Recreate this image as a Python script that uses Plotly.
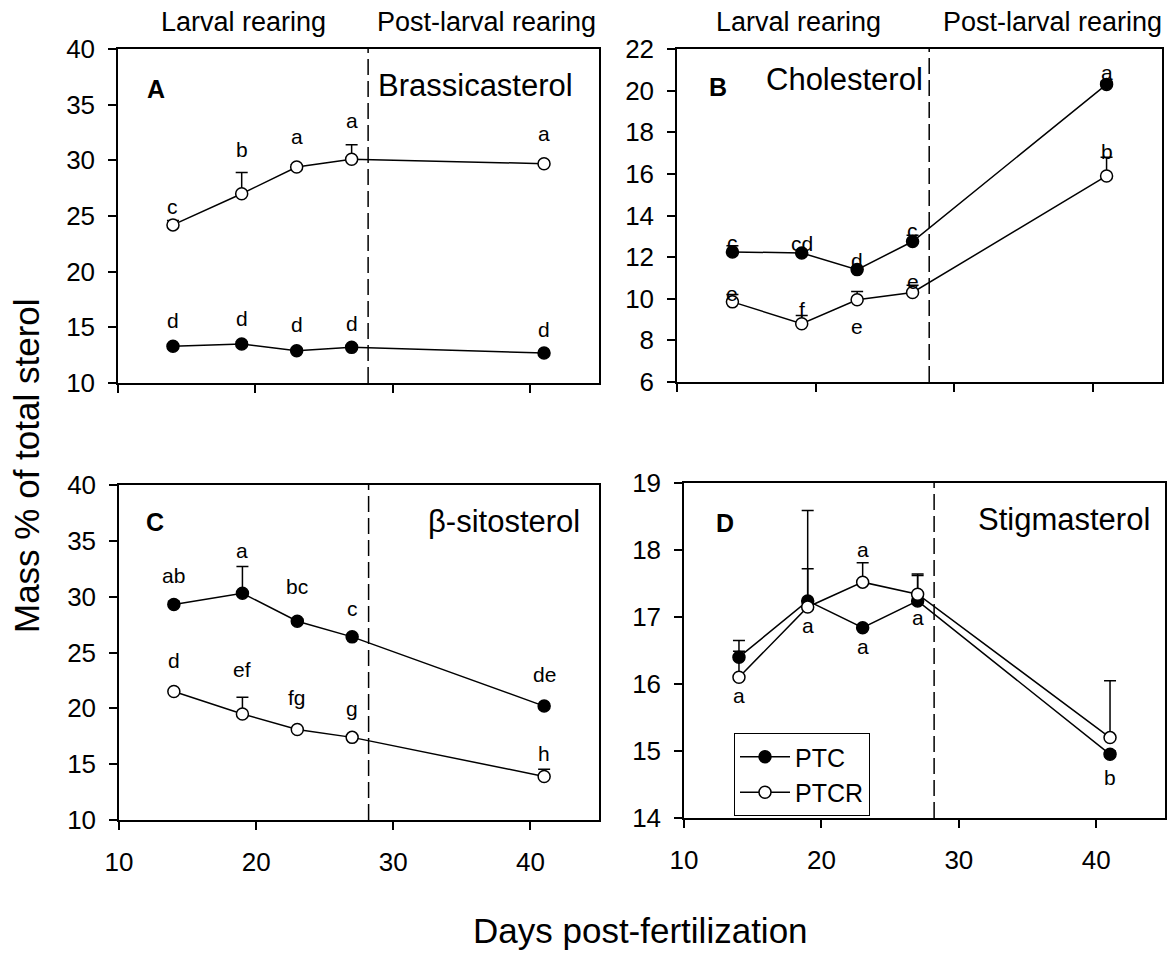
import plotly.graph_objects as go

# ---------------- data ----------------
days = [14, 19, 23, 27, 41]
x_ticks = [10, 20, 30, 40]
phase_boundary = 28.2
header_labels = ["Larval rearing", "Post-larval rearing"]
series_names = ["PTC", "PTCR"]

# Panel A - Brassicasterol
A_ptc = [13.3, 13.5, 12.9, 13.2, 12.7]
A_ptc_err = [0.2, 0.2, 0.2, 0.2, 0.2]
A_ptcr = [24.2, 27.0, 29.4, 30.1, 29.7]
A_ptcr_err = [0.4, 1.9, 0.2, 1.3, 0.2]
A_ptc_letters = ["d", "d", "d", "d", "d"]
A_ptcr_letters = ["c", "b", "a", "a", "a"]
A_ptc_lab_y = [15.58, 15.82, 15.29, 15.38, 14.84]
A_ptcr_lab_y = [25.85, 30.93, 32.13, 33.54, 32.43]

# Panel B - Cholesterol
B_ptc = [12.25, 12.2, 11.4, 12.75, 20.3]
B_ptc_err = [0.3, 0.1, 0.1, 0.3, 0.15]
B_ptcr = [9.85, 8.8, 9.95, 10.3, 15.9]
B_ptcr_err = [0.35, 0.4, 0.4, 0.35, 0.9]
B_ptc_letters = ["c", "cd", "d", "c", "a"]
B_ptcr_letters = ["e", "f", "e", "e", "b"]
B_ptc_lab_y = [12.71, 12.66, 11.86, 13.27, 20.85]
B_ptcr_lab_y = [10.26, 9.49, 8.65, 10.82, 17.07]

# Panel C - beta-sitosterol
C_ptc = [29.3, 30.3, 27.8, 26.4, 20.2]
C_ptc_err = [0.3, 2.4, 0.2, 0.2, 0.2]
C_ptcr = [21.5, 19.5, 18.1, 17.4, 13.9]
C_ptcr_err = [0.1, 1.5, 0.1, 0.1, 0.65]
C_ptc_letters = ["ab", "a", "bc", "c", "de"]
C_ptcr_letters = ["d", "ef", "fg", "g", "h"]
C_ptc_lab_y = [31.92, 34.1, 30.87, 28.92, 23.02]
C_ptcr_lab_y = [24.31, 23.47, 20.93, 20.03, 15.99]

# Panel D - Stigmasterol
D_ptc = [16.4, 17.24, 16.84, 17.24, 14.95]
D_ptc_err = [0.25, 1.35, 0.03, 0.4, 0.05]
D_ptcr = [16.1, 17.15, 17.52, 17.34, 15.2]
D_ptcr_err = [0.39, 0.57, 0.29, 0.28, 0.85]
D_lab_days = [14, 19, 23, 23, 27, 41]
D_lab_letters = ["a", "a", "a", "a", "a", "b"]
D_lab_y = [15.83, 16.88, 18.01, 16.56, 17.0, 14.61]

panels = [
    dict(name="A", title="Brassicasterol", ptc=A_ptc, ptc_err=A_ptc_err, ptcr=A_ptcr, ptcr_err=A_ptcr_err,
         yr=[10, 40], dt=5, xs="x", ys="y"),
    dict(name="B", title="Cholesterol", ptc=B_ptc, ptc_err=B_ptc_err, ptcr=B_ptcr, ptcr_err=B_ptcr_err,
         yr=[6, 22], dt=2, xs="x2", ys="y2"),
    dict(name="C", title="β-sitosterol", ptc=C_ptc, ptc_err=C_ptc_err, ptcr=C_ptcr, ptcr_err=C_ptcr_err,
         yr=[10, 40], dt=5, xs="x3", ys="y3"),
    dict(name="D", title="Stigmasterol", ptc=D_ptc, ptc_err=D_ptc_err, ptcr=D_ptcr, ptcr_err=D_ptcr_err,
         yr=[14, 19], dt=1, xs="x4", ys="y4"),
]

W, H = 1168, 954
FONT = "Liberation Sans, Arial, Helvetica, sans-serif"

def px_dom(a, b, total):
    return [a / total, b / total]

def py_dom(top, bottom):
    return [1 - bottom / H, 1 - top / H]

x_domains = [px_dom(118, 599, W), px_dom(677, 1162, W), px_dom(119, 599, W), px_dom(684, 1165, W)]
y_domains = [py_dom(49, 383), py_dom(49, 382), py_dom(485, 820), py_dom(483, 818)]

# text placement inside panels (axis-domain fractions)
panel_letter_pos = [(0.08, 0.879), (0.085, 0.887), (0.076, 0.89), (0.086, 0.881)]
panel_title_pos = [(0.744, 0.892), (0.346, 0.908), (0.802, 0.89), (0.789, 0.89)]

fig = go.Figure()

def err_dict(err):
    return dict(type="data", symmetric=False, array=err, arrayminus=[0] * len(err),
                color="black", thickness=1.5, width=6, visible=True)

for i, p in enumerate(panels):
    show = (p["name"] == "D")
    fig.add_trace(go.Scatter(
        x=days, y=p["ptc"], error_y=err_dict(p["ptc_err"]), mode="lines+markers",
        name=series_names[0], showlegend=show,
        line=dict(color="black", width=1.5),
        marker=dict(symbol="circle", size=12, color="black", line=dict(color="black", width=1.5)),
        xaxis=p["xs"], yaxis=p["ys"]))
    fig.add_trace(go.Scatter(
        x=days, y=p["ptcr"], error_y=err_dict(p["ptcr_err"]), mode="lines+markers",
        name=series_names[1], showlegend=show,
        line=dict(color="black", width=1.5),
        marker=dict(symbol="circle", size=12, color="white", line=dict(color="black", width=1.5)),
        xaxis=p["xs"], yaxis=p["ys"]))

annotations = []
def add_letters(xs, ys, letters, xref, yref):
    for xv, yv, t in zip(xs, ys, letters):
        annotations.append(dict(x=xv, y=yv, xref=xref, yref=yref, text=t, showarrow=False,
                                font=dict(family=FONT, size=21, color="black"),
                                xanchor="center", yanchor="middle"))

add_letters(days, A_ptc_lab_y, A_ptc_letters, "x", "y")
add_letters(days, A_ptcr_lab_y, A_ptcr_letters, "x", "y")
add_letters(days, B_ptc_lab_y, B_ptc_letters, "x2", "y2")
add_letters(days, B_ptcr_lab_y, B_ptcr_letters, "x2", "y2")
add_letters(days, C_ptc_lab_y, C_ptc_letters, "x3", "y3")
add_letters(days, C_ptcr_lab_y, C_ptcr_letters, "x3", "y3")
add_letters(D_lab_days, D_lab_y, D_lab_letters, "x4", "y4")

shapes = []
layout_axes = {}
for i, p in enumerate(panels):
    xk = "xaxis" if i == 0 else f"xaxis{i+1}"
    yk = "yaxis" if i == 0 else f"yaxis{i+1}"
    common = dict(showline=True, linecolor="black", linewidth=1.5, mirror=True,
                  ticks="outside", ticklen=8, tickwidth=1.5, tickcolor="black",
                  showgrid=False, zeroline=False, automargin=False,
                  tickfont=dict(family=FONT, size=26, color="black"))
    layout_axes[xk] = dict(common, domain=x_domains[i], range=[10, 45], tickvals=x_ticks,
                           showticklabels=(i >= 2), anchor=p["ys"], ticklabelstandoff=10)
    layout_axes[yk] = dict(common, domain=y_domains[i], range=p["yr"], dtick=p["dt"],
                           tick0=p["yr"][0], anchor=p["xs"], ticklabelstandoff=8)
    # phase boundary
    shapes.append(dict(type="line", xref=p["xs"], yref=f"{p['ys']} domain",
                       x0=phase_boundary, x1=phase_boundary, y0=0, y1=1,
                       line=dict(color="black", width=1.5, dash="16px,6px")))
    xd = p["xs"] + " domain"
    yd = p["ys"] + " domain"
    lx, ly = panel_letter_pos[i]
    annotations.append(dict(x=lx, y=ly, xref=xd, yref=yd, text=f"<b>{p['name']}</b>", showarrow=False,
                            font=dict(family=FONT, size=25, color="black"), xanchor="center", yanchor="middle"))
    tx, ty = panel_title_pos[i]
    annotations.append(dict(x=tx, y=ty, xref=xd, yref=yd, text=p["title"], showarrow=False,
                            font=dict(family=FONT, size=31, color="black"), xanchor="center", yanchor="middle"))

# headers above the top panels
header_pos = [(243, 22), (487, 22), (798, 22), (1052, 22)]
for j, (hx, hy) in enumerate(header_pos):
    annotations.append(dict(x=hx / W, y=1 - hy / H, xref="paper", yref="paper",
                            text=header_labels[j % 2], showarrow=False,
                            font=dict(family=FONT, size=27, color="black"),
                            xanchor="center", yanchor="middle"))

# axis titles
annotations.append(dict(x=27 / W, y=1 - 466 / H, xref="paper", yref="paper",
                        text="Mass % of total sterol", textangle=-90, showarrow=False,
                        font=dict(family=FONT, size=35, color="black"),
                        xanchor="center", yanchor="middle"))
annotations.append(dict(x=641 / W, y=1 - 930 / H, xref="paper", yref="paper",
                        text="Days post-fertilization", showarrow=False,
                        font=dict(family=FONT, size=35, color="black"),
                        xanchor="center", yanchor="middle"))

fig.update_layout(
    width=W, height=H,
    margin=dict(l=0, r=0, t=0, b=0, autoexpand=False),
    paper_bgcolor="white", plot_bgcolor="white",
    showlegend=True,
    legend=dict(x=734 / W, y=1 - 733 / H, xanchor="left", yanchor="top",
                bordercolor="black", borderwidth=1, bgcolor="white",
                font=dict(family=FONT, size=25, color="black"),
                itemwidth=50, tracegroupgap=0),
    annotations=annotations,
    shapes=shapes,
    **layout_axes,
)

fig.write_html("out.html", config={"displayModeBar": False},
               post_script="document.body.style.margin='0';document.body.style.overflow='hidden';")
